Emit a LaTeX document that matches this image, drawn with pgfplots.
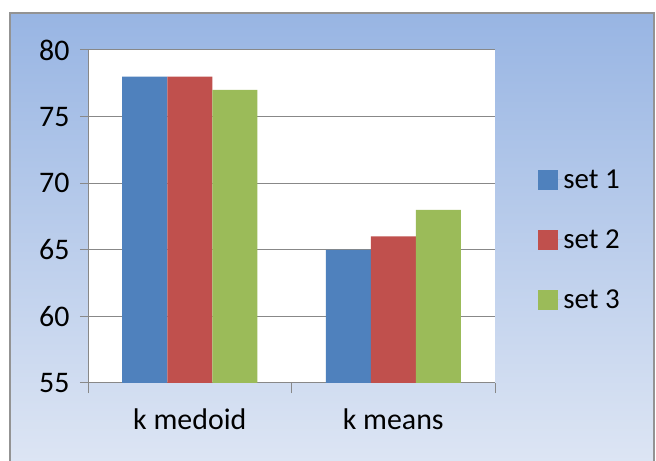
\documentclass[border=0pt]{standalone}
\usepackage{fontspec}
\setmainfont{Carlito}
\usepackage{pgfplots}
\pgfplotsset{compat=1.18}
\definecolor{s1}{HTML}{4F81BD}
\definecolor{s2}{HTML}{C0504D}
\definecolor{s3}{HTML}{9BBB59}
\definecolor{gridc}{HTML}{888888}
\definecolor{bgtop}{RGB}{152,181,227}
\definecolor{bgbot}{RGB}{222,230,244}
\begin{document}
\begin{tikzpicture}
\useasboundingbox (0bp,0bp) rectangle (656bp,461bp);
\clip (0bp,0bp) rectangle (656bp,461bp);
\shade[top color=bgtop, bottom color=bgbot] (10bp,-10bp) rectangle (654bp,448bp);
\draw[color=gray!85, line width=1.5bp] (10bp,-10bp) rectangle (654bp,448bp);
\begin{axis}[
  at={(88bp,78bp)}, anchor=south west,
  scale only axis, width=407bp, height=333bp,
  /pgf/number format/assume math mode=true,
  ymin=55, ymax=80, ytick={55,60,...,80},
  xmin=-0.5, xmax=1.5, xtick={0,1}, xticklabels={k medoid,k means},
  minor xtick={-0.5,0.5,1.5},
  axis lines=left, axis line style={-, draw=gridc, line width=1bp},
  axis background/.style={fill=white},
  ymajorgrids, grid style={gridc, line width=1bp},
  tick align=outside, major tick length=8bp, minor tick length=10bp,
  every major x tick/.style={draw=none},
  every minor x tick/.style={gridc, line width=1bp},
  every y tick/.style={gridc, line width=1bp},
  ticklabel style={font=\fontsize{30}{36}\selectfont, text=black},
  xticklabel style={yshift=-14bp},
  yticklabel style={xshift=-7bp},
  ybar=0pt, bar width=45bp,
  legend style={at={(1.106,0.43)}, anchor=west, draw=none, fill=none,
    font=\fontsize{29}{34}\selectfont, row sep=40bp, inner sep=0pt,
    nodes={inner sep=0pt}},
  legend cell align=left,
  legend image code/.code={\fill[#1] (0bp,-10bp) rectangle (20bp,10bp); \path (0bp,0bp) -- (25bp,0bp);},
]
\addplot[fill=s1, draw=none] coordinates {(0,78) (1,65)};
\addplot[fill=s2, draw=none] coordinates {(0,78) (1,66)};
\addplot[fill=s3, draw=none] coordinates {(0,77) (1,68)};
\legend{set 1,set 2,set 3}
\end{axis}
\end{tikzpicture}
\end{document}
